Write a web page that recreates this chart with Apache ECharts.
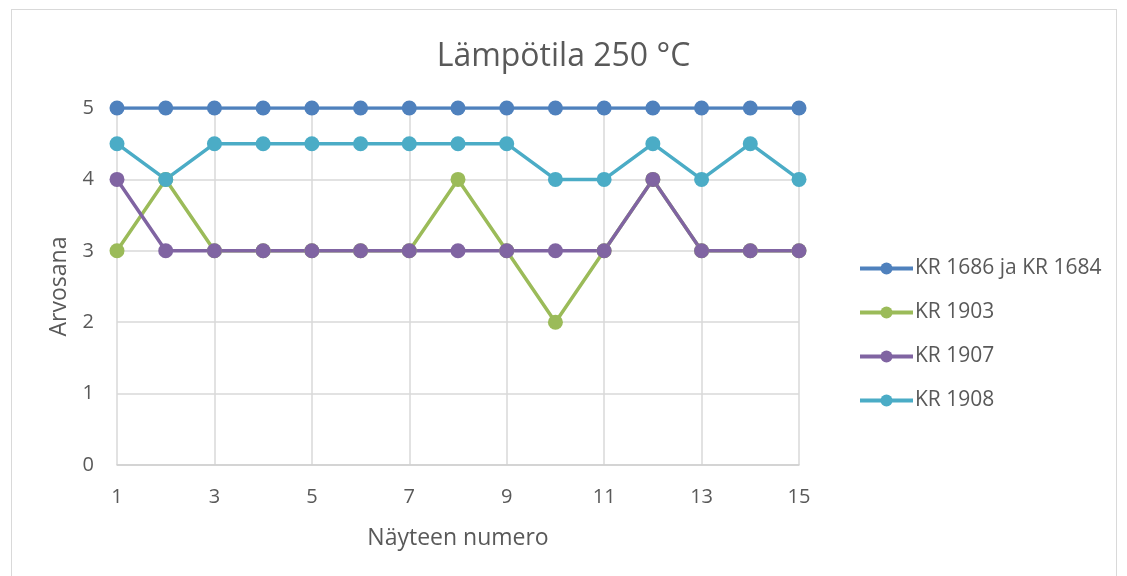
<!DOCTYPE html>
<html>
<head>
<meta charset="utf-8">
<script src="https://cdn.jsdelivr.net/npm/echarts@6/dist/echarts.min.js"></script>
<style>
  html, body { margin: 0; padding: 0; background: #fff; }
  #frame { position: absolute; left: 11px; top: 9px; width: 1106px; height: 580px; border: 1px solid #d9d9d9; box-sizing: border-box; }
  #chart { position: absolute; left: 0; top: 0; width: 1127px; height: 576px; }
</style>
</head>
<body>
<div id="frame"></div>
<div id="chart"></div>
<script>
// näytteet 1..15
var categories = ['1', '2', '3', '4', '5', '6', '7', '8', '9', '10', '11', '12', '13', '14', '15'];
var kr1686 = [5, 5, 5, 5, 5, 5, 5, 5, 5, 5, 5, 5, 5, 5, 5];
var kr1903 = [3, 4, 3, 3, 3, 3, 3, 4, 3, 2, 3, 4, 3, 3, 3];
var kr1907 = [4, 3, 3, 3, 3, 3, 3, 3, 3, 3, 3, 4, 3, 3, 3];
var kr1908 = [4.5, 4, 4.5, 4.5, 4.5, 4.5, 4.5, 4.5, 4.5, 4, 4, 4.5, 4, 4.5, 4];
var yTicks = [0, 1, 2, 3, 4, 5];

var txt = '#595959';
var fnt = '"Open Sans", sans-serif';

function line(name, data, color) {
    return {
        name: name,
        type: 'line',
        data: data,
        symbol: 'circle',
        symbolSize: 15,
        lineStyle: { width: 3.5, color: color },
        itemStyle: { color: color },
        emphasis: { disabled: true },
        animation: false
    };
}

var myChart = echarts.init(document.getElementById('chart'));
var option = {
    backgroundColor: 'transparent',
    title: {
        text: 'Lämpötila 250 °C',
        left: 'center',
        top: 36,
        textStyle: { color: txt, fontSize: 32, fontWeight: 'normal', fontFamily: fnt }
    },
    legend: {
        orient: 'vertical',
        left: 853,
        top: 253,
        itemWidth: 53,
        itemHeight: 15,
        itemGap: 23,
        lineStyle: { width: 4 },
        textStyle: { color: txt, fontSize: 21, fontFamily: fnt, padding: [0, 0, 0, -3] },
        data: ['KR 1686 ja KR 1684', 'KR 1903', 'KR 1907', 'KR 1908']
    },
    grid: { left: 117, right: 328, top: 108, bottom: 111 },
    xAxis: {
        type: 'category',
        data: categories,
        boundaryGap: false,
        name: 'Näyteen numero',
        nameLocation: 'middle',
        nameGap: 62,
        nameTextStyle: { color: txt, fontSize: 23, fontFamily: fnt },
        axisLine: { lineStyle: { color: '#d0d0d0', width: 1.5 } },
        axisTick: { show: false },
        axisLabel: { interval: 1, color: txt, fontSize: 20, fontFamily: fnt, margin: 22 },
        splitLine: { show: true, interval: 1, lineStyle: { color: '#d9d9d9', width: 1.5 } }
    },
    yAxis: {
        type: 'value',
        min: yTicks[0],
        max: yTicks[yTicks.length - 1],
        interval: 1,
        name: 'Arvosana',
        nameLocation: 'middle',
        nameGap: 46,
        nameTextStyle: { color: txt, fontSize: 23, fontFamily: fnt },
        axisLine: { show: false },
        axisTick: { show: false },
        axisLabel: { color: txt, fontSize: 20, fontFamily: fnt, margin: 23 },
        splitLine: { lineStyle: { color: '#d9d9d9', width: 1.5 } }
    },
    series: [
        line('KR 1686 ja KR 1684', kr1686, '#4f81bd'),
        line('KR 1903', kr1903, '#9bbb59'),
        line('KR 1907', kr1907, '#8064a2'),
        line('KR 1908', kr1908, '#4bacc6')
    ]
};
myChart.setOption(option);
</script>
</body>
</html>
